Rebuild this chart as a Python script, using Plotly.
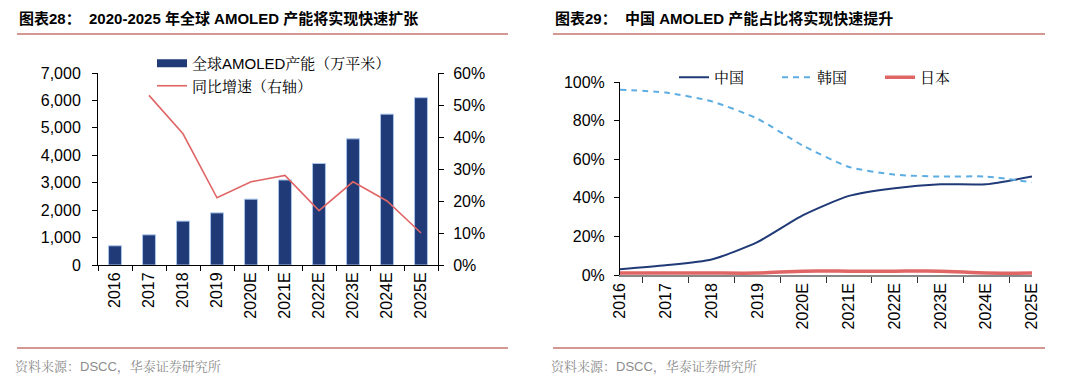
import plotly.graph_objects as go

years = ["2016", "2017", "2018", "2019", "2020E", "2021E", "2022E", "2023E", "2024E", "2025E"]
capacity = [700, 1100, 1600, 1900, 2400, 3100, 3700, 4600, 5500, 6100]
growth = [None, 53, 41, 21, 26, 28, 17, 26, 20, 10]
china = [3, 5, 8, 17, 31, 41, 45, 47, 47, 51]
korea = [96, 94.5, 90, 81, 67, 56, 52, 51, 51, 48]
japan = [1, 1, 1, 1, 2, 2, 2, 2, 1, 1]

left_ticks = [0, 1000, 2000, 3000, 4000, 5000, 6000, 7000]
right_ticks = [0, 10, 20, 30, 40, 50, 60]
share_ticks = [0, 20, 40, 60, 80, 100]

# the page body has an 8px default margin; the figure is sized to fit
OFF = 8
W, H = 1079 - OFF, 385 - OFF
FONT = "Liberation Sans, Arial, Noto Sans CJK SC"
CJK = "Liberation Sans, Noto Serif CJK SC, Noto Sans CJK SC"
NAVY = "#1F3A76"
RED = "#E06666"

def px(x):
    return (x - OFF) / W

def py(y):
    return 1 - (y - OFF) / H

fig = go.Figure()

fig.add_trace(go.Bar(
    x=years, y=capacity, name="全球AMOLED产能（万平米）", showlegend=False,
    marker=dict(color=NAVY, line=dict(color="#A9C4EB", width=1)),
    width=0.38, xaxis="x", yaxis="y",
))
# legend entry for the bars (wide rectangle swatch as in the reference)
fig.add_trace(go.Scatter(
    x=[None], y=[None], name="全球AMOLED产能（万平米）", mode="lines",
    line=dict(color=NAVY, width=8), xaxis="x", yaxis="y",
))
fig.add_trace(go.Scatter(
    x=years, y=growth, name="同比增速（右轴）", mode="lines",
    line=dict(color=RED, width=1.6), xaxis="x", yaxis="y2",
    connectgaps=False,
))

fig.add_trace(go.Scatter(
    x=years, y=china, name="中国", mode="lines",
    line=dict(color=NAVY, width=2, shape="spline", smoothing=0.6),
    xaxis="x3", yaxis="y3", legend="legend2",
))
fig.add_trace(go.Scatter(
    x=years, y=korea, name="韩国", mode="lines",
    line=dict(color="#5DADE2", width=2, dash="6px,5px", shape="spline", smoothing=0.6),
    xaxis="x3", yaxis="y3", legend="legend2",
))
fig.add_trace(go.Scatter(
    x=years, y=japan, name="日本", mode="lines",
    line=dict(color=RED, width=3.5, shape="spline", smoothing=0.6),
    xaxis="x3", yaxis="y3", legend="legend2",
))

ytickfont = dict(family=FONT, size=16, color="#000000")
xtickfont = dict(family=FONT, size=16, color="#000000")

fig.update_layout(
    width=W, height=H,
    margin=dict(l=0, r=0, t=0, b=0, autoexpand=False),
    paper_bgcolor="white", plot_bgcolor="white",
    font=dict(family=FONT, color="#000000"),
    xaxis=dict(
        domain=[px(98), px(438)], anchor="y", type="category", automargin=False,
        showline=True, linecolor="#000000", linewidth=1,
        ticks="outside", ticklen=5, tickcolor="#000000", tickson="boundaries",
        tickangle=-90, tickfont=xtickfont, showgrid=False, zeroline=False,
    ),
    yaxis=dict(
        domain=[py(265), py(73)], anchor="x", range=[0, 7000], automargin=False,
        tickvals=left_ticks, ticktext=[f"{v:,}" for v in left_ticks],
        showline=True, linecolor="#000000", linewidth=1,
        ticks="outside", ticklen=5, tickcolor="#000000", ticklabelstandoff=8,
        tickfont=ytickfont, showgrid=False, zeroline=False,
    ),
    yaxis2=dict(
        domain=[py(265), py(73)], anchor="x", overlaying="y", side="right",
        range=[0, 60], tickvals=right_ticks, ticktext=[f"{v}%" for v in right_ticks],
        showline=True, linecolor="#000000", linewidth=1, automargin=False,
        ticks="outside", ticklen=5, tickcolor="#000000", ticklabelstandoff=6,
        tickfont=ytickfont, showgrid=False, zeroline=False,
    ),
    xaxis3=dict(
        domain=[px(620), px(1032)], anchor="y3", type="category", automargin=False,
        showline=True, linecolor="#888888", linewidth=1.5,
        ticks="outside", ticklen=6, tickcolor="#333333", tickson="boundaries",
        tickangle=-90, tickfont=xtickfont, showgrid=False, zeroline=False,
    ),
    yaxis3=dict(
        domain=[py(275), py(82)], anchor="x3", range=[0, 100], automargin=False,
        tickvals=share_ticks, ticktext=[f"{v}%" for v in share_ticks],
        showline=True, linecolor="#000000", linewidth=1,
        ticks="outside", ticklen=5, tickcolor="#000000", ticklabelstandoff=6,
        tickfont=ytickfont, showgrid=False, zeroline=False,
    ),
    legend=dict(
        x=px(152), y=py(47), xanchor="left", yanchor="top",
        bgcolor="rgba(0,0,0,0)", font=dict(family=CJK, size=15, color="#000000"),
        tracegroupgap=0,
    ),
    legend2=dict(
        orientation="h", x=px(674), y=py(61), xanchor="left", yanchor="top",
        bgcolor="rgba(0,0,0,0)", font=dict(family=CJK, size=15, color="#000000"),
        entrywidth=58, entrywidthmode="pixels",
    ),
    showlegend=True,
)

sep_color = "#A93226"
shapes = []
for x0, x1 in [(17, 508), (553, 1045)]:
    for yy in (34, 348):
        shapes.append(dict(type="line", xref="paper", yref="paper",
                           x0=px(x0), x1=px(x1), y0=py(yy), y1=py(yy),
                           line=dict(color=sep_color, width=1.2)))
fig.update_layout(shapes=shapes)

annotations = [
    dict(text="<b>图表28：  2020-2025 年全球 AMOLED 产能将实现快速扩张</b>",
         x=px(17), y=py(18), xanchor="left", yanchor="middle",
         font=dict(family="Liberation Sans, Noto Sans CJK SC", size=15, color="#000000")),
    dict(text="<b>图表29：  中国 AMOLED 产能占比将实现快速提升</b>",
         x=px(553), y=py(18), xanchor="left", yanchor="middle",
         font=dict(family="Liberation Sans, Noto Sans CJK SC", size=15, color="#000000")),
    dict(text="资料来源：DSCC，华泰证券研究所",
         x=px(13), y=py(367), xanchor="left", yanchor="middle",
         font=dict(family=CJK, size=13, color="#8C8C8C")),
    dict(text="资料来源：DSCC，华泰证券研究所",
         x=px(549), y=py(367), xanchor="left", yanchor="middle",
         font=dict(family=CJK, size=13, color="#8C8C8C")),
]
for a in annotations:
    a.update(xref="paper", yref="paper", showarrow=False)
fig.update_layout(annotations=annotations)

fig.write_html("out.html")
